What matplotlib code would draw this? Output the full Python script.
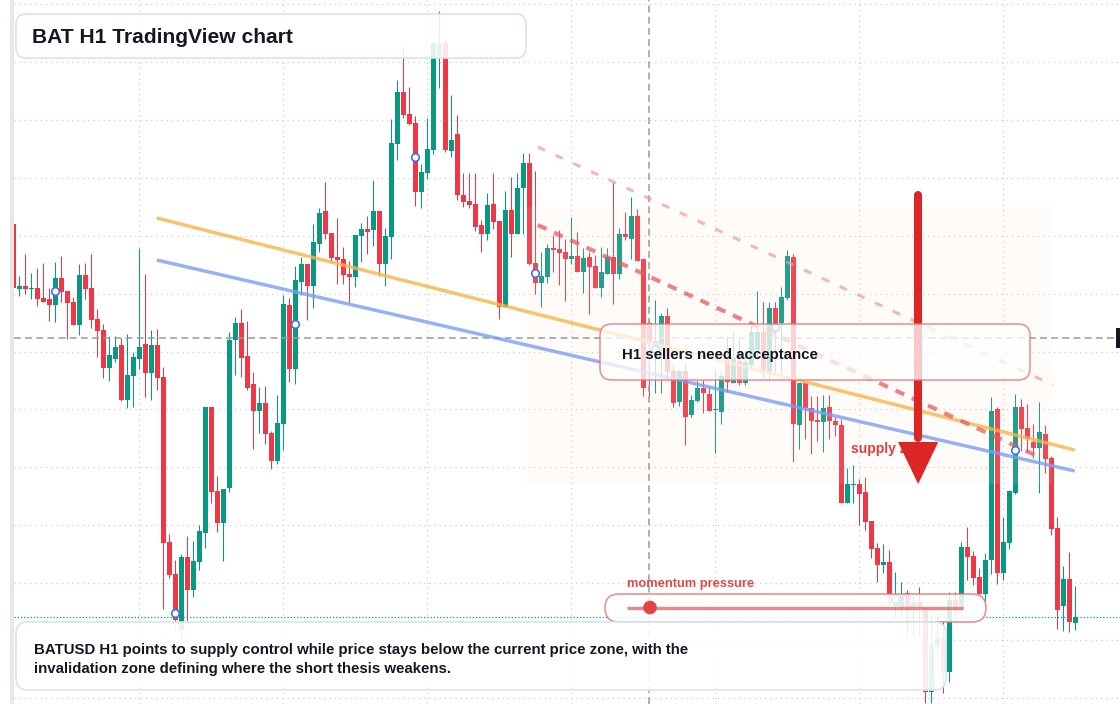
"""
BAT H1 candlestick chart with supply zone annotations.
"""
import matplotlib
matplotlib.use('Agg')
import matplotlib.pyplot as plt
import matplotlib.transforms as mtransforms
from matplotlib.patches import FancyBboxPatch, Rectangle, Polygon, Circle
import numpy as np

W, H = 1120, 704

# hourly OHLC, oldest first
opens = [
    0.2176, 0.2111, 0.2114, 0.2111, 0.2112, 0.2102, 0.2101, 0.2095, 0.2122, 0.2109,
    0.2098, 0.2075, 0.2125, 0.2112, 0.2081, 0.2070, 0.2032, 0.2041, 0.2055, 0.2000,
    0.2024, 0.2041, 0.2056, 0.2027, 0.2055, 0.2023, 0.1858, 0.1826, 0.1770, 0.1843,
    0.1810, 0.1838, 0.1867, 0.1993, 0.1909, 0.1877, 0.1912, 0.2060, 0.2077, 0.2044,
    0.2016, 0.1989, 0.1997, 0.1967, 0.1939, 0.1976, 0.2095, 0.2031, 0.2118, 0.2136,
    0.2114, 0.2156, 0.2189, 0.2167, 0.2143, 0.2141, 0.2126, 0.2123, 0.2164, 0.2171,
    0.2170, 0.2189, 0.2136, 0.2163, 0.2256, 0.2308, 0.2286, 0.2277, 0.2208, 0.2227,
    0.2250, 0.2345, 0.2357, 0.2249, 0.2266, 0.2205, 0.2199, 0.2196, 0.2175, 0.2166,
    0.2196, 0.2179, 0.2093, 0.2190, 0.2166, 0.2212, 0.2237, 0.2137, 0.2117, 0.2123,
    0.2152, 0.2151, 0.2148, 0.2141, 0.2144, 0.2128, 0.2143, 0.2134, 0.2112, 0.2126,
    0.2143, 0.2126, 0.2166, 0.2161, 0.2184, 0.2141, 0.2077, 0.2054, 0.2055, 0.2084,
    0.2029, 0.1998, 0.2029, 0.1985, 0.1999, 0.2012, 0.2006, 0.1990, 0.1988, 0.2040,
    0.2017, 0.2039, 0.2017, 0.2035, 0.2050, 0.2068, 0.2028, 0.2092, 0.2077, 0.2102,
    0.2143, 0.1975, 0.2017, 0.1992, 0.1980, 0.1978, 0.1993, 0.1979, 0.1975, 0.1897,
    0.1915, 0.1916, 0.1908, 0.1879, 0.1852, 0.1835, 0.1838, 0.1794, 0.1793, 0.1807,
    0.1793, 0.1798, 0.1792, 0.1708, 0.1754, 0.1762, 0.1728, 0.1800, 0.1790, 0.1853,
    0.1844, 0.1823, 0.1806, 0.1840, 0.1991, 0.1827, 0.1857, 0.1907, 0.1993, 0.1972,
    0.1958, 0.1952, 0.1966, 0.1942, 0.1872, 0.1794, 0.1821, 0.1777,
]
highs = [
    0.2176, 0.2124, 0.2146, 0.2127, 0.2132, 0.2137, 0.2112, 0.2138, 0.2144, 0.2109,
    0.2103, 0.2136, 0.2137, 0.2146, 0.2091, 0.2076, 0.2064, 0.2064, 0.2062, 0.2066,
    0.2048, 0.2152, 0.2126, 0.2070, 0.2071, 0.2033, 0.1866, 0.1840, 0.1846, 0.1864,
    0.1859, 0.1875, 0.1993, 0.1993, 0.1924, 0.1911, 0.2068, 0.2083, 0.2091, 0.2079,
    0.2028, 0.2013, 0.2014, 0.1969, 0.2005, 0.2105, 0.2102, 0.2134, 0.2143, 0.2136,
    0.2176, 0.2192, 0.2218, 0.2167, 0.2182, 0.2153, 0.2139, 0.2165, 0.2177, 0.2184,
    0.2220, 0.2189, 0.2172, 0.2281, 0.2320, 0.2353, 0.2313, 0.2284, 0.2236, 0.2282,
    0.2357, 0.2389, 0.2361, 0.2305, 0.2285, 0.2227, 0.2227, 0.2227, 0.2180, 0.2207,
    0.2227, 0.2179, 0.2209, 0.2223, 0.2227, 0.2247, 0.2247, 0.2229, 0.2148, 0.2156,
    0.2165, 0.2170, 0.2161, 0.2183, 0.2168, 0.2152, 0.2148, 0.2145, 0.2153, 0.2152,
    0.2218, 0.2172, 0.2188, 0.2203, 0.2191, 0.2141, 0.2080, 0.2100, 0.2087, 0.2092,
    0.2035, 0.2030, 0.2037, 0.2005, 0.2020, 0.2020, 0.2013, 0.2030, 0.2028, 0.2063,
    0.2068, 0.2063, 0.2050, 0.2075, 0.2109, 0.2098, 0.2098, 0.2098, 0.2113, 0.2150,
    0.2146, 0.2017, 0.2017, 0.2004, 0.2004, 0.2005, 0.2005, 0.1983, 0.1981, 0.1932,
    0.1935, 0.1921, 0.1923, 0.1879, 0.1857, 0.1856, 0.1850, 0.1828, 0.1818, 0.1810,
    0.1807, 0.1813, 0.1792, 0.1785, 0.1785, 0.1780, 0.1808, 0.1808, 0.1858, 0.1873,
    0.1849, 0.1832, 0.1847, 0.2003, 0.1993, 0.1883, 0.1910, 0.2006, 0.2001, 0.1996,
    0.1976, 0.1998, 0.1975, 0.1944, 0.1883, 0.1834, 0.1848, 0.1814,
]
lows = [
    0.2112, 0.2104, 0.2106, 0.2101, 0.2094, 0.2098, 0.2079, 0.2078, 0.2098, 0.2061,
    0.2075, 0.2065, 0.2101, 0.2072, 0.2043, 0.2022, 0.2019, 0.2038, 0.1999, 0.1992,
    0.1993, 0.2031, 0.2003, 0.2000, 0.2010, 0.1791, 0.1822, 0.1770, 0.1760, 0.1778,
    0.1803, 0.1830, 0.1852, 0.1897, 0.1868, 0.1839, 0.1908, 0.2025, 0.2023, 0.2010,
    0.1951, 0.1967, 0.1956, 0.1931, 0.1936, 0.1950, 0.2018, 0.2016, 0.2105, 0.2080,
    0.2092, 0.2148, 0.2161, 0.2138, 0.2116, 0.2116, 0.2097, 0.2113, 0.2138, 0.2146,
    0.2154, 0.2124, 0.2114, 0.2141, 0.2240, 0.2282, 0.2275, 0.2194, 0.2192, 0.2221,
    0.2246, 0.2312, 0.2248, 0.2243, 0.2200, 0.2193, 0.2192, 0.2169, 0.2148, 0.2160,
    0.2171, 0.2081, 0.2093, 0.2143, 0.2166, 0.2166, 0.2135, 0.2106, 0.2093, 0.2117,
    0.2128, 0.2115, 0.2099, 0.2136, 0.2128, 0.2107, 0.2086, 0.2112, 0.2103, 0.2126,
    0.2096, 0.2121, 0.2160, 0.2141, 0.2139, 0.2004, 0.2003, 0.2007, 0.2007, 0.2020,
    0.1993, 0.1994, 0.1955, 0.1983, 0.1998, 0.1987, 0.1989, 0.1947, 0.1976, 0.2008,
    0.2017, 0.2015, 0.2015, 0.2032, 0.2040, 0.2022, 0.2020, 0.2028, 0.2027, 0.2100,
    0.1938, 0.1951, 0.1961, 0.1946, 0.1959, 0.1948, 0.1961, 0.1964, 0.1897, 0.1897,
    0.1897, 0.1875, 0.1870, 0.1842, 0.1818, 0.1827, 0.1795, 0.1783, 0.1783, 0.1764,
    0.1767, 0.1764, 0.1697, 0.1697, 0.1750, 0.1707, 0.1718, 0.1785, 0.1787, 0.1820,
    0.1815, 0.1806, 0.1799, 0.1826, 0.1816, 0.1820, 0.1851, 0.1906, 0.1949, 0.1948,
    0.1942, 0.1907, 0.1927, 0.1865, 0.1771, 0.1769, 0.1768, 0.1770,
]
closes = [
    0.2112, 0.2114, 0.2111, 0.2112, 0.2101, 0.2098, 0.2095, 0.2122, 0.2108, 0.2097,
    0.2075, 0.2125, 0.2111, 0.2080, 0.2069, 0.2032, 0.2045, 0.2053, 0.2000, 0.2025,
    0.2043, 0.2053, 0.2027, 0.2055, 0.2022, 0.1857, 0.1825, 0.1780, 0.1843, 0.1810,
    0.1839, 0.1869, 0.1993, 0.1908, 0.1877, 0.1911, 0.2060, 0.2077, 0.2042, 0.2012,
    0.1989, 0.1997, 0.1966, 0.1939, 0.1977, 0.2096, 0.2031, 0.2120, 0.2136, 0.2114,
    0.2158, 0.2187, 0.2166, 0.2142, 0.2140, 0.2125, 0.2123, 0.2165, 0.2171, 0.2168,
    0.2189, 0.2136, 0.2164, 0.2257, 0.2308, 0.2285, 0.2276, 0.2208, 0.2228, 0.2251,
    0.2357, 0.2356, 0.2250, 0.2260, 0.2205, 0.2198, 0.2195, 0.2173, 0.2166, 0.2195,
    0.2178, 0.2093, 0.2190, 0.2166, 0.2212, 0.2237, 0.2136, 0.2117, 0.2124, 0.2152,
    0.2150, 0.2147, 0.2141, 0.2144, 0.2128, 0.2142, 0.2133, 0.2112, 0.2128, 0.2143,
    0.2126, 0.2166, 0.2163, 0.2184, 0.2139, 0.2012, 0.2057, 0.2059, 0.2084, 0.2028,
    0.1997, 0.2029, 0.1983, 0.2000, 0.2012, 0.2007, 0.1989, 0.1991, 0.2024, 0.2018,
    0.2042, 0.2017, 0.2038, 0.2068, 0.2068, 0.2027, 0.2092, 0.2077, 0.2103, 0.2144,
    0.1976, 0.2017, 0.1992, 0.1979, 0.1978, 0.1992, 0.1979, 0.1975, 0.1897, 0.1916,
    0.1916, 0.1906, 0.1878, 0.1851, 0.1835, 0.1838, 0.1806, 0.1800, 0.1805, 0.1793,
    0.1798, 0.1793, 0.1708, 0.1755, 0.1762, 0.1728, 0.1800, 0.1790, 0.1853, 0.1843,
    0.1822, 0.1806, 0.1840, 0.1989, 0.1827, 0.1858, 0.1909, 0.1993, 0.1971, 0.1961,
    0.1952, 0.1968, 0.1941, 0.1871, 0.1790, 0.1821, 0.1778, 0.1783,
]

# pivot markers (candle index, price)
marker_idx = [7, 27, 47, 67, 87, 107, 127, 147, 167]
marker_price = [0.2109, 0.1787, 0.2076, 0.2243, 0.2127, 0.2051, 0.2073, 0.1801, 0.1950]

# drawn levels: (start idx, end idx), (start price, end price)
orange_x, orange_y = [23.9, 176.9], [0.2182, 0.1950]
blue_x, blue_y = [23.9, 176.9], [0.2140, 0.1929]
red_x, red_y = [87.4, 171.0], [0.2175, 0.1943]
pink_x, pink_y = [87.4, 173.3], [0.2253, 0.2015]
zone_x, zone_y = [85.6, 173.1], [0.1916, 0.2193]
cross_idx, cross_price = 106, 0.2062

GREEN = '#089981'
RED = '#f23645'
TXT = '#131722'
FONT = 'Liberation Sans'

fig = plt.figure(figsize=(W / 100, H / 100), dpi=100)
fig.patch.set_facecolor('white')
ax = fig.add_axes([14 / W, 0, 1 - 14 / W, 1])
ax.set_facecolor('white')
for s in ax.spines.values():
    s.set_visible(False)

# pixel space with top-left origin, for layout boxes
pix = mtransforms.Affine2D().scale(1, -1).translate(0, H)

o = np.array(opens)
h = np.array(highs)
l = np.array(lows)
c = np.array(closes)
x = np.arange(len(o))
cols = np.where(c >= o, GREEN, RED)

ax.vlines(x, l, h, colors=cols, lw=0.75, zorder=2)
ax.bar(x, np.maximum(np.abs(c - o), 0.00012), bottom=np.minimum(o, c),
       width=0.78, color=cols, lw=0, zorder=3)

ax.set_xlim(0.111, 184.444)
ax.set_ylim(0.1696, 0.2400)

# grid
ax.set_xticks([21, 45, 69, 93, 117, 141, 165])
ax.set_yticks([0.2396, 0.2338, 0.2280, 0.2222, 0.2164, 0.2106, 0.2048, 0.1991,
               0.1933, 0.1875, 0.1817, 0.1760, 0.1702])
ax.tick_params(length=0, labelbottom=False, labelleft=False)
ax.grid(True, color='#cfcfcf', lw=0.9, linestyle=(0, (1, 3.2)), zorder=0)
ax.set_axisbelow(True)

# crosshair + last price
ax.axhline(cross_price, color='#9a9a9a', lw=1.1, linestyle=(0, (4.5, 2.8)), zorder=5)
ax.axvline(cross_idx, color='#9a9a9a', lw=1.1, linestyle=(0, (4.5, 2.8)), zorder=5)
ax.axhline(c[-1], color=GREEN, lw=0.9, linestyle=(0, (1, 1.6)), zorder=5)

# supply zone tint
ax.add_patch(Rectangle((zone_x[0], zone_y[0]), zone_x[1] - zone_x[0], zone_y[1] - zone_y[0],
                       fc='#ffdeca', alpha=0.11, lw=0, zorder=4))

# trend lines
ax.plot(orange_x, orange_y, color='#f8b54a', alpha=0.8, lw=2.5, zorder=5, solid_capstyle='butt')
ax.plot(blue_x, blue_y, color='#7a9ff4', alpha=0.8, lw=2.5, zorder=5, solid_capstyle='butt')
ax.plot(red_x, red_y, color='#e55c5c', alpha=0.75, lw=3.0, linestyle=(0, (2.3, 2.0)), zorder=5)
ax.plot(pink_x, pink_y, color='#f09a9a', alpha=0.7, lw=2.2, linestyle=(0, (2.6, 3.8)), zorder=5)

ax.scatter(marker_idx, marker_price, s=30, facecolor='white', edgecolor='#3f72f0',
           lw=1.2, zorder=6)

# supply zone label and arrow
ax.text(139.6, 0.1947, 'supply zone', color='#e23d3d', fontsize=10, fontweight='bold',
        family=FONT, va='baseline', zorder=6)
ax.plot([150.8, 150.8], [0.2205, 0.1962], color='#dc2626', lw=5.8,
        solid_capstyle='round', zorder=7)
ax.add_patch(Polygon([(147.45, 0.1958), (154.15, 0.1958), (150.8, 0.1916)],
                     closed=True, fc='#dc2626', ec='none', zorder=7))


def box(x0, y0, w, hgt, r, fc, ec, alpha, z, lw=1.2):
    p = FancyBboxPatch((x0, y0), w, hgt, boxstyle=f'round,pad=0,rounding_size={r}',
                       transform=pix, fc=fc, ec=ec, lw=lw, zorder=z)
    p.set_facecolor(matplotlib.colors.to_rgba(fc, alpha))
    ax.add_patch(p)


# annotation box
box(600, 324, 430, 56, 12, 'white', (0.90, 0.45, 0.45, 0.75), 0.76, 8)
ax.text(622, 359, 'H1 sellers need acceptance', transform=pix, fontsize=10.8,
        fontweight='bold', color=TXT, family=FONT, va='baseline', zorder=9)

# momentum pill
ax.text(627, 587, 'momentum pressure', transform=pix, fontsize=9.3,
        fontweight='bold', color='#e04848', family=FONT, va='baseline', zorder=9)
box(605, 594, 381, 28, 14, 'white', (0.91, 0.45, 0.45, 0.8), 0.85, 9)
ax.plot([627, 963], [607.5, 607.5], transform=pix, color='#e57373', alpha=0.85,
        lw=2.4, solid_capstyle='butt', zorder=10)
ax.add_patch(Circle((650, 607.5), 6.8, transform=pix, fc='#e04444', ec='none', zorder=11))

# title box
box(16, 14, 510, 44, 10, 'white', '#d5e3fa', 0.88, 9)
ax.text(32, 43.3, 'BAT H1 TradingView chart', transform=pix, fontsize=15.1,
        fontweight='bold', color=TXT, family=FONT, va='baseline', zorder=10)

# bottom note
box(16, 622, 930, 68, 12, 'white', '#d5e3fa', 0.9, 9)
ax.text(34, 654, 'BATUSD H1 points to supply control while price stays below the current price zone, with the',
        transform=pix, fontsize=10.85, fontweight='bold', color=TXT, family=FONT,
        va='baseline', zorder=10)
ax.text(34, 673.5, 'invalidation zone defining where the short thesis weakens.',
        transform=pix, fontsize=10.85, fontweight='bold', color=TXT, family=FONT,
        va='baseline', zorder=10)

# price tag stub on the right and left frame strip
ax.add_patch(Rectangle((1116, 328), 5, 20, transform=pix, fc=TXT, ec='none', zorder=10,
                       clip_on=False))
fig.add_artist(Rectangle((10, 0), 4, H, transform=pix, fc='#e8e8e8', ec='none'))

fig.savefig('out.png', dpi=100)
print('saved out.png')
